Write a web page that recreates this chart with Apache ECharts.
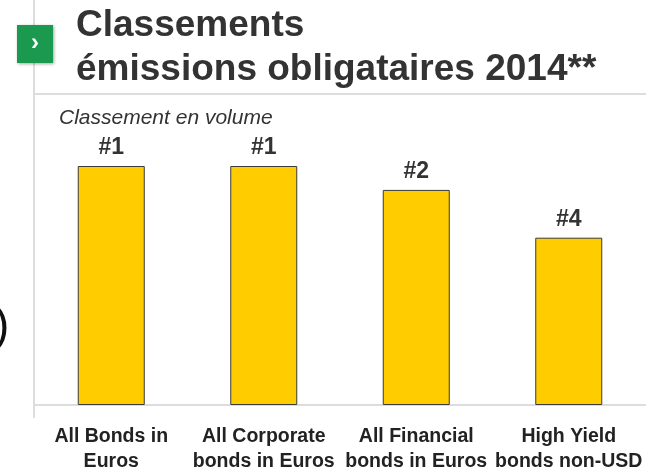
<!DOCTYPE html>
<html>
<head>
<meta charset="utf-8">
<script src="https://cdn.jsdelivr.net/npm/echarts@6/dist/echarts.min.js"></script>
<style>
html,body{margin:0;padding:0;background:#fff;}
#c{width:646px;height:474px;}
</style>
</head>
<body>
<div id="c"></div>
<script>
var categories = ['All Bonds in\nEuros', 'All Corporate\nbonds in Euros', 'All Financial\nbonds in Euros', 'High Yield\nbonds non-USD'];
var volumes = [100, 100, 90, 70];
var ranks = ['#1', '#1', '#2', '#4'];
var titleLines = ['Classements', 'émissions obligataires 2014**'];
var subtitle = 'Classement en volume';

var chart = echarts.init(document.getElementById('c'));
chart.setOption({
  animation: false,
  title: {
    text: titleLines.join('\n'),
    left: 71, top: -1,
    textStyle: {fontFamily: 'Liberation Sans', fontWeight: 'bold', fontSize: 37, lineHeight: 44, color: '#333'}
  },
  graphic: [
    {type: 'line', shape: {x1: 34, y1: 0, x2: 34, y2: 418}, style: {stroke: '#dddddd', lineWidth: 2}},
    {type: 'line', shape: {x1: 34, y1: 94, x2: 646, y2: 94}, style: {stroke: '#dddddd', lineWidth: 2}},
    {type: 'rect', shape: {x: 17, y: 25, width: 36, height: 38}, style: {fill: '#1b9a4f', shadowBlur: 3, shadowColor: 'rgba(0,0,0,0.35)', shadowOffsetX: 1, shadowOffsetY: 1}},
    {type: 'text', style: {text: '›', x: 35, y: 43, fill: '#fff', font: 'bold 24px Liberation Sans', textAlign: 'center', textVerticalAlign: 'middle'}},
    {type: 'text', style: {text: subtitle, x: 59, y: 118, fill: '#333', font: 'italic 21px Liberation Sans', textAlign: 'left', textVerticalAlign: 'middle'}},
    {type: 'text', style: {text: ')', x: -6, y: 327, fill: '#111', font: '46px Liberation Sans', textAlign: 'left', textVerticalAlign: 'middle'}}
  ],
  grid: {left: 35, right: 1, top: 166, bottom: 68},
  xAxis: {
    type: 'category', data: categories, offset: 12,
    axisLine: {lineStyle: {color: '#dddddd', width: 2}},
    axisTick: {show: false},
    axisLabel: {interval: 0, margin: 7, fontFamily: 'Liberation Sans', fontWeight: 'bold', fontSize: 19.5, lineHeight: 25, color: '#222'}
  },
  yAxis: {type: 'value', min: 0, max: 100, show: false},
  series: [{
    type: 'bar', data: volumes, barWidth: 67,
    itemStyle: {color: '#ffcc00', borderColor: '#3a3a3a', borderWidth: 1},
    label: {show: true, position: 'top', distance: 7, formatter: function (p) { return ranks[p.dataIndex]; },
      fontFamily: 'Liberation Sans', fontWeight: 'bold', fontSize: 23, color: '#333'}
  }]
});
</script>
</body>
</html>
